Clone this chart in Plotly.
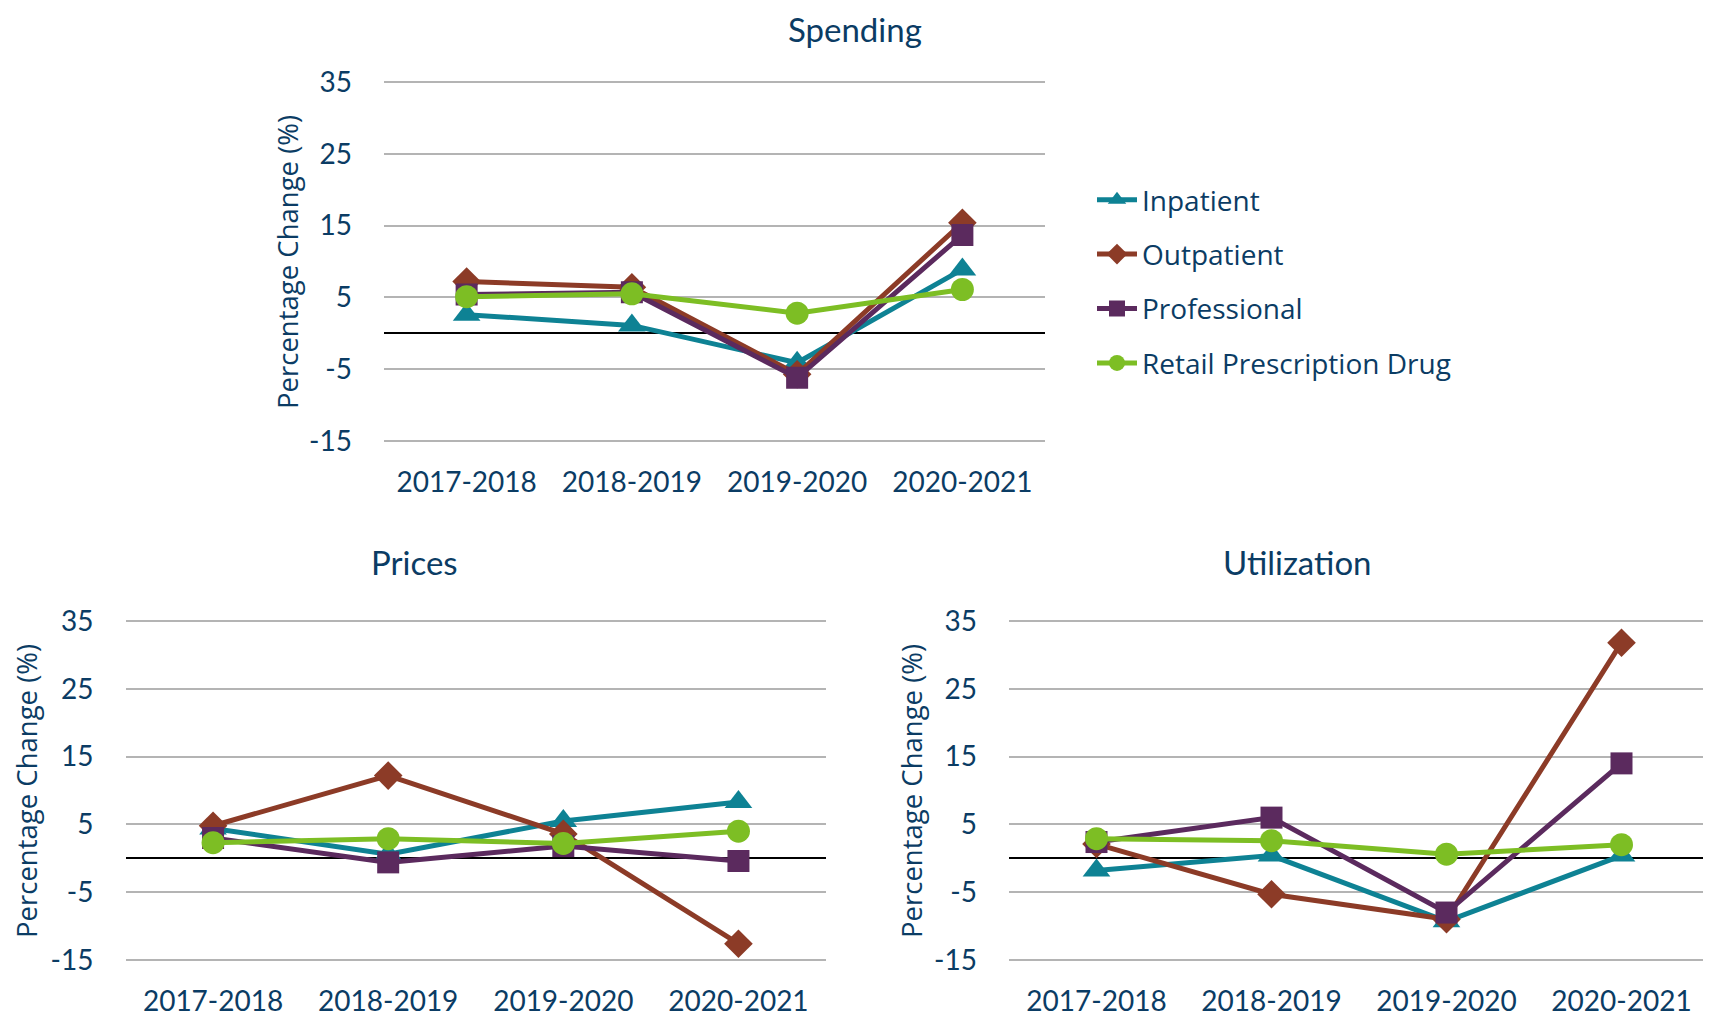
import plotly.graph_objects as go

periods = ["2017-2018", "2018-2019", "2019-2020", "2020-2021"]
series_names = ["Inpatient", "Outpatient", "Professional", "Retail Prescription Drug"]

spending_inpatient = [2.6, 1.1, -4.1, 8.9]
spending_outpatient = [7.2, 6.4, -5.7, 15.4]
spending_professional = [5.4, 5.7, -6.2, 13.7]
spending_retail = [5.1, 5.5, 2.8, 6.1]

prices_inpatient = [4.4, 0.6, 5.5, 8.3]
prices_outpatient = [4.8, 12.2, 3.6, -12.6]
prices_professional = [3.0, -0.6, 1.8, -0.4]
prices_retail = [2.3, 2.9, 2.2, 4.0]

util_inpatient = [-1.8, 0.4, -9.3, 0.4]
util_outpatient = [2.1, -5.3, -9.0, 31.8]
util_professional = [2.4, 6.0, -8.0, 14.0]
util_retail = [2.9, 2.6, 0.6, 2.0]

y_ticks = [-15, -5, 5, 15, 25, 35]
y_tick_labels = ["-15", "-5", "5", "15", "25", "35"]
panel_titles = ["Spending", "Prices", "Utilization"]
y_title = "Percentage Change (%)"

colors = ["#0E8294", "#8C3B27", "#5B2A5E", "#7DBE24"]
symbols = ["triangle-up", "diamond", "square", "circle"]
msizes = [24, 22, 22, 23]
TEXT = "#0B3C64"
NARROW = "Lato, Liberation Sans, sans-serif"
WIDE = "Open Sans, Noto Sans, sans-serif"

panels = [
    [spending_inpatient, spending_outpatient, spending_professional, spending_retail],
    [prices_inpatient, prices_outpatient, prices_professional, prices_retail],
    [util_inpatient, util_outpatient, util_professional, util_retail],
]

fig = go.Figure()
for p, data in enumerate(panels):
    ax = "" if p == 0 else str(p + 1)
    for i, vals in enumerate(data):
        fig.add_trace(go.Scatter(
            x=periods, y=vals, name=series_names[i],
            xaxis="x" + ax, yaxis="y" + ax,
            mode="lines+markers",
            line=dict(color=colors[i], width=5),
            marker=dict(symbol=symbols[i], size=msizes[i], color=colors[i]),
            showlegend=(p == 0), legendgroup=series_names[i],
        ))

# page body has an 8px margin; figure is sized to fit the window
OFF = 8
W, H = 1711 - OFF, 1018 - OFF

def fx(px):
    return (px - OFF) / W

def fy(py):
    return 1 - (py - OFF) / H

def dom_x(a, b):
    return [fx(a), fx(b)]

def dom_y(top_px, bot_px, lo=-15, hi=35, ext=0.6):
    ppu = (bot_px - top_px) / (hi - lo)
    t = top_px - ext * ppu
    b = bot_px + ext * ppu
    return [fy(b), fy(t)]

xdoms = [dom_x(384, 1045), dom_x(125.5, 826), dom_x(1009, 1709)]
ydoms = [dom_y(82, 441), dom_y(621, 960), dom_y(621, 960)]

layout = dict(
    width=W, height=H,
    margin=dict(l=0, r=0, t=0, b=0, autoexpand=False),
    paper_bgcolor="white", plot_bgcolor="white",
    showlegend=True,
    legend=dict(
        x=fx(1092), y=fy(175), xanchor="left", yanchor="top",
        font=dict(family=WIDE, size=28, color=TEXT),
        traceorder="grouped", tracegroupgap=15,
        bgcolor="rgba(0,0,0,0)", itemwidth=40,
    ),
)
for p in range(3):
    ax = "" if p == 0 else str(p + 1)
    layout["xaxis" + ax] = dict(
        domain=xdoms[p], anchor="y" + ax, type="category",
        range=[-0.5, 3.5], showgrid=False, showline=False, zeroline=False,
        ticks="", tickfont=dict(family=NARROW, size=28, color=TEXT),
        ticklabelstandoff=18, fixedrange=True,
    )
    layout["yaxis" + ax] = dict(
        domain=ydoms[p], anchor="x" + ax,
        range=[-15.6, 35.6], tickvals=y_ticks, ticktext=y_tick_labels,
        showgrid=True, gridcolor="#B4B4B4", gridwidth=2,
        zeroline=True, zerolinecolor="black", zerolinewidth=1.5,
        showline=False, ticks="",
        tickfont=dict(family=NARROW, size=28, color=TEXT),
        ticklabelstandoff=31, fixedrange=True,
    )
fig.update_layout(**layout)

title_pos = [(855, 29), (414, 562), (1297, 562)]
for t, (px, py) in zip(panel_titles, title_pos):
    fig.add_annotation(text=t, x=fx(px), y=fy(py), xref="paper", yref="paper",
                       xanchor="center", yanchor="middle", showarrow=False, borderpad=0,
                       font=dict(family=NARROW, size=33, color=TEXT))
ytitle_pos = [(287, 262), (26, 791), (911, 791)]
for px, py in ytitle_pos:
    fig.add_annotation(text=y_title, x=fx(px), y=fy(py), xref="paper", yref="paper",
                       xanchor="center", yanchor="middle", showarrow=False, textangle=-90,
                       font=dict(family=WIDE, size=27.5, color=TEXT))

fig.write_html("out.html")
